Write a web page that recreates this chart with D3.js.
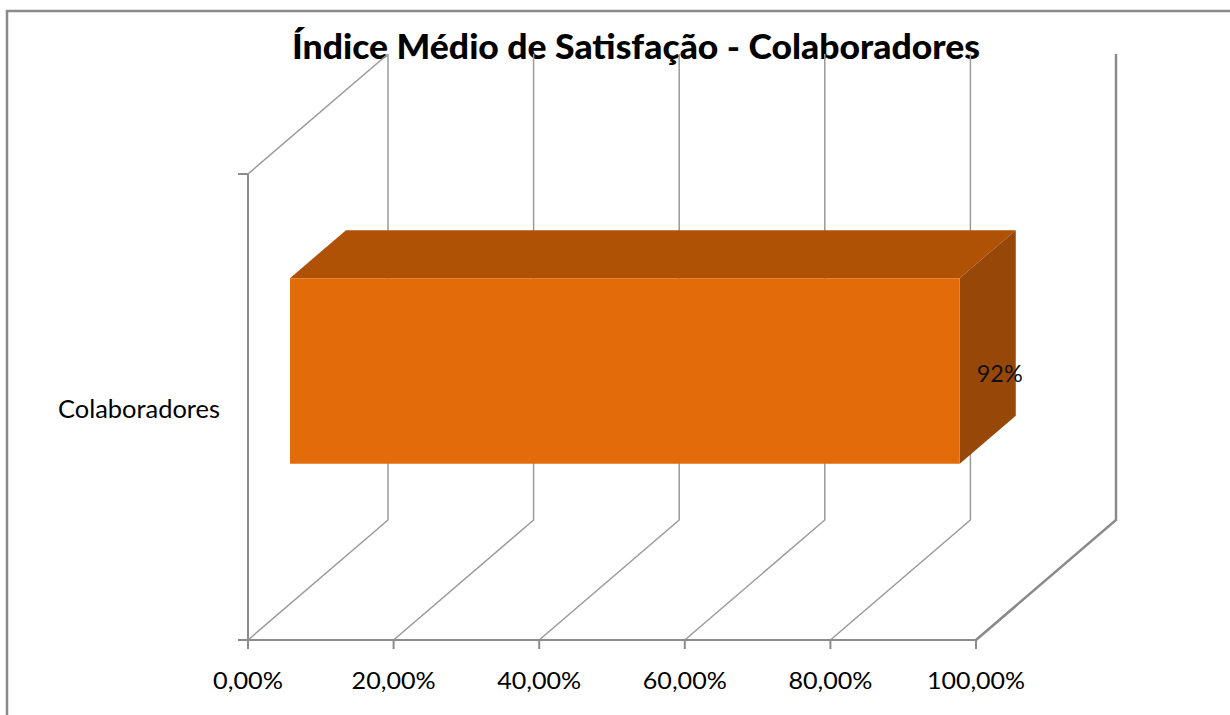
<!DOCTYPE html>
<html>
<head>
<meta charset="utf-8">
<script src="https://cdn.jsdelivr.net/npm/d3@7"></script>
<style>
  html, body { margin: 0; padding: 0; background: #fff; }
  svg { display: block; }
</style>
</head>
<body>
<svg id="chart" width="1230" height="715"></svg>
<script>
// ---- data ----
const title = "Índice Médio de Satisfação - Colaboradores";
const categories = ["Colaboradores"];
const values = [0.92];
const valueLabels = ["92%"];
const xTicks = [0, 0.2, 0.4, 0.6, 0.8, 1.0];

// ---- layout ----
const svg = d3.select("#chart");
const front = { left: 248, right: 976, top: 174, bottom: 640 };
const depth = { dx: 140, dy: -120 };
const barDepth = [0.30, 0.70];

const x = d3.scaleLinear().domain([0, 1]).range([front.left, front.right]);
const y = d3.scaleBand().domain(categories).range([front.top, front.bottom]).padding(0.43);

const locale = d3.formatLocale({ decimal: ",", thousands: ".", grouping: [3], currency: ["", ""] });
const fmt = locale.format(".2%");

function P(v, yy, f) { return [x(v) + depth.dx * f, yy + depth.dy * f]; }

const grid = "#8c8c8c";
const font = "Lato, 'Open Sans', sans-serif";

// outer border (only top and left visible)
svg.append("rect").attr("x", 7).attr("y", 11).attr("width", 1300).attr("height", 800)
  .attr("fill", "none").attr("stroke", "#8a8a8a").attr("stroke-width", 2.5);

// title
svg.append("text").attr("x", 636).attr("y", 59).attr("text-anchor", "middle")
  .attr("font-family", font).attr("font-weight", "900").attr("font-size", 34)
  .attr("textLength", 688).attr("lengthAdjust", "spacingAndGlyphs")
  .attr("fill", "#000").text(title);

const g = svg.append("g");

// left wall edges
g.append("line").attr("x1", x(0)).attr("y1", front.top).attr("x2", x(0)).attr("y2", front.bottom)
  .attr("stroke", grid).attr("stroke-width", 2);
g.append("line").attr("x1", P(0, front.top, 0)[0]).attr("y1", front.top)
  .attr("x2", P(0, front.top, 1)[0]).attr("y2", P(0, front.top, 1)[1])
  .attr("stroke", "#9a9a9a").attr("stroke-width", 1.5);

// gridlines: floor diagonal + back wall vertical
xTicks.forEach((v, i) => {
  const a = P(v, front.bottom, 0), b = P(v, front.bottom, 1), c = P(v, front.top, 1);
  const last = i === xTicks.length - 1;
  g.append("polyline")
    .attr("points", [a, b, c].map(p => p.join(",")).join(" "))
    .attr("fill", "none").attr("stroke", last ? "#8a8a8a" : "#9a9a9a")
    .attr("stroke-width", last ? 2.5 : 1.5);
});

// front floor axis line
g.append("line").attr("x1", x(0)).attr("y1", front.bottom).attr("x2", x(1)).attr("y2", front.bottom)
  .attr("stroke", grid).attr("stroke-width", 2);

// x ticks and labels
xTicks.forEach(v => {
  g.append("line").attr("x1", x(v)).attr("x2", x(v)).attr("y1", front.bottom).attr("y2", front.bottom + 9)
    .attr("stroke", grid).attr("stroke-width", 2);
  g.append("text").attr("x", x(v)).attr("y", 689).attr("text-anchor", "middle")
    .attr("font-family", font).attr("font-size", 23).attr("fill", "#000")
    .attr("textLength", fmt(v).length * 14).attr("lengthAdjust", "spacingAndGlyphs")
    .text(fmt(v));
});

// y ticks (category boundaries)
[front.top, front.bottom].forEach(yy => {
  g.append("line").attr("x1", x(0) - 10).attr("x2", x(0)).attr("y1", yy).attr("y2", yy)
    .attr("stroke", grid).attr("stroke-width", 2);
});

// category labels
categories.forEach(c => {
  g.append("text").attr("x", 220).attr("y", 418)
    .attr("text-anchor", "end").attr("font-family", font).attr("font-size", 25)
    .attr("textLength", 162).attr("lengthAdjust", "spacingAndGlyphs")
    .attr("fill", "#000").text(c);
});

// bars
categories.forEach((c, i) => {
  const v = values[i];
  const t = y(c), b = y(c) + y.bandwidth();
  const [f0, f1] = barDepth;
  const poly = pts => pts.map(p => p.join(",")).join(" ");
  // top face
  g.append("polygon").attr("points", poly([P(0, t, f0), P(v, t, f0), P(v, t, f1), P(0, t, f1)]))
    .attr("fill", "#B05206");
  // right face
  g.append("polygon").attr("points", poly([P(v, t, f0), P(v, t, f1), P(v, b, f1), P(v, b, f0)]))
    .attr("fill", "#974707");
  // front face
  g.append("polygon").attr("points", poly([P(0, t, f0), P(v, t, f0), P(v, b, f0), P(0, b, f0)]))
    .attr("fill", "#E36C0A");
  // label
  const rx = P(v, t, f0)[0];
  g.append("text").attr("x", rx + 17).attr("y", 382)
    .attr("font-family", font).attr("font-size", 23).attr("fill", "#111")
    .attr("textLength", 46).attr("lengthAdjust", "spacingAndGlyphs")
    .text(valueLabels[i]);
});
</script>
</body>
</html>
